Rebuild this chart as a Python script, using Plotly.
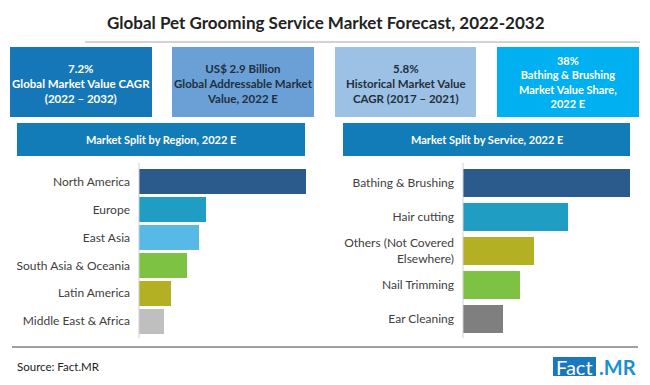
import plotly.graph_objects as go

W, H = 650, 385

title_text = "Global Pet Grooming Service Market Forecast, 2022-2032"

region_labels = ["North America", "Europe", "East Asia", "South Asia & Oceania", "Latin America", "Middle East & Africa"]
region_values = [167, 67, 60, 48, 32, 25]
region_colors = ["#2A5B8C", "#1F9DC2", "#56B9E6", "#7DC243", "#B3B024", "#BFBFBF"]

service_labels = ["Bathing & Brushing", "Hair cutting", "Others (Not Covered<br>Elsewhere)", "Nail Trimming", "Ear Cleaning"]
service_values = [167, 105, 71, 57, 40]
service_colors = ["#2A5B8C", "#1F9DC2", "#B3B024", "#7DC243", "#7F7F7F"]

kpi_lines = [
    ["7.2%", "Global Market Value CAGR", "(2022 – 2032)"],
    ["US$ 2.9 Billion", "Global Addressable Market", "Value, 2022 E"],
    ["5.8%", "Historical Market Value", "CAGR (2017 – 2021)"],
    ["38%", "Bathing & Brushing", "Market Value Share,", "2022 E"],
]
kpi_fill = ["#1577B7", "#6BA0D6", "#9DC1E4", "#00B0F0"]
kpi_text_color = ["white", "#1F2F40", "#1F2F40", "white"]
kpi_x = [(10, 152), (172, 314), (335, 476), (497, 639)]
kpi_center_y = [84, 84, 83.5, 82]
kpi_font = [11.5, 11.5, 11.5, 11]

headers = ["Market Split by Region, 2022 E", "Market Split by Service, 2022 E"]
header_x = [(17, 305), (343, 630)]

FONT = "Lato"


def px(x):
    return x / W


def py(y):
    return 1 - y / H


fig = go.Figure()

fig.add_trace(go.Bar(
    x=region_values, y=region_labels, orientation="h",
    marker=dict(color=region_colors, line=dict(width=0)),
    width=0.9, xaxis="x", yaxis="y", hoverinfo="x+y",
))
fig.add_trace(go.Bar(
    x=service_values, y=service_labels, orientation="h",
    marker=dict(color=service_colors, line=dict(width=0)),
    width=0.8, xaxis="x2", yaxis="y2", hoverinfo="x+y",
))

shapes = []
annotations = []

# title
annotations.append(dict(x=px(326), y=py(22), xref="paper", yref="paper", text="<b>" + title_text + "</b>",
                        showarrow=False, font=dict(family=FONT, size=17, color="#222222"),
                        xanchor="center", yanchor="middle"))
shapes.append(dict(type="line", xref="paper", yref="paper", x0=px(85), x1=px(640), y0=py(42), y1=py(42),
                   line=dict(color="#A6A6A6", width=1)))

# KPI boxes
for i in range(4):
    x0, x1 = kpi_x[i]
    shapes.append(dict(type="rect", xref="paper", yref="paper", x0=px(x0), x1=px(x1), y0=py(117), y1=py(47),
                       fillcolor=kpi_fill[i], line=dict(width=0), layer="below"))
    annotations.append(dict(x=px((x0 + x1) / 2), y=py(kpi_center_y[i]), xref="paper", yref="paper",
                            text="<br>".join("<b>" + t + "</b>" for t in kpi_lines[i]),
                            showarrow=False, align="center",
                            font=dict(family=FONT, size=kpi_font[i], color=kpi_text_color[i]),
                            xanchor="center", yanchor="middle"))

# header bars
for i in range(2):
    x0, x1 = header_x[i]
    shapes.append(dict(type="rect", xref="paper", yref="paper", x0=px(x0), x1=px(x1), y0=py(156), y1=py(123),
                       fillcolor="#127CB8", line=dict(width=0), layer="below"))
    annotations.append(dict(x=px((x0 + x1) / 2), y=py(139.5), xref="paper", yref="paper", text="<b>" + headers[i] + "</b>",
                            showarrow=False, font=dict(family=FONT, size=11, color="white"),
                            xanchor="center", yanchor="middle"))

# axis lines
shapes.append(dict(type="line", xref="paper", yref="paper", x0=px(139), x1=px(139), y0=py(163), y1=py(338),
                   line=dict(color="#D0D0D0", width=1)))
shapes.append(dict(type="line", xref="paper", yref="paper", x0=px(463), x1=px(463), y0=py(163), y1=py(338),
                   line=dict(color="#D0D0D0", width=1)))

# footer
shapes.append(dict(type="line", xref="paper", yref="paper", x0=px(12), x1=px(638), y0=py(347), y1=py(347),
                   line=dict(color="#404040", width=1)))
annotations.append(dict(x=px(15), y=py(366), xref="paper", yref="paper", text="Source: Fact.MR",
                        showarrow=False, font=dict(family=FONT, size=11.5, color="#222222"),
                        xanchor="left", yanchor="middle"))
shapes.append(dict(type="rect", xref="paper", yref="paper", x0=px(553), x1=px(596), y0=py(376), y1=py(357),
                   fillcolor="#1A78BE", line=dict(width=0), layer="below"))
annotations.append(dict(x=px(574.5), y=py(366.5), xref="paper", yref="paper", text="Fact",
                        showarrow=False, font=dict(family=FONT, size=20, color="white"),
                        xanchor="center", yanchor="middle"))
annotations.append(dict(x=px(597), y=py(366.5), xref="paper", yref="paper", text="<b>.MR</b>",
                        showarrow=False, font=dict(family=FONT, size=20, color="#1B8FD2"),
                        xanchor="left", yanchor="middle"))

fig.update_layout(
    width=W, height=H, margin=dict(l=0, r=0, t=0, b=0),
    paper_bgcolor="white", plot_bgcolor="white",
    showlegend=False, bargap=0,
    shapes=shapes, annotations=annotations,
    font=dict(family=FONT, color="#404040"),
    xaxis=dict(domain=[px(139), px(310)], range=[0, 171], visible=False, fixedrange=True),
    yaxis=dict(domain=[py(335), py(168)], anchor="x", autorange="reversed", showgrid=False,
               tickfont=dict(family=FONT, size=12, color="#404040"), ticks="", showline=False,
               ticklabelstandoff=8, zeroline=False, fixedrange=True),
    xaxis2=dict(domain=[px(463), px(634)], range=[0, 171], visible=False, fixedrange=True),
    yaxis2=dict(domain=[py(336), py(166)], anchor="x2", autorange="reversed", showgrid=False,
                tickfont=dict(family=FONT, size=12, color="#404040"), ticks="", showline=False,
                ticklabelstandoff=8, zeroline=False, fixedrange=True),
)

fig.write_html("out.html", config={"displayModeBar": False},
               post_script="document.body.style.margin='0';document.body.style.overflow='hidden';")
